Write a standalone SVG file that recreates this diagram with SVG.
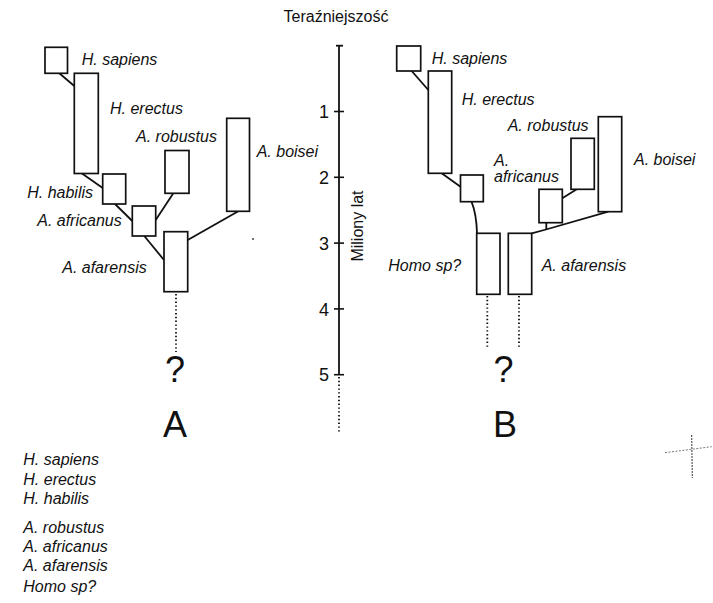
<svg xmlns="http://www.w3.org/2000/svg" width="713" height="603" viewBox="0 0 713 603">
  <style>
    .box { fill: #fff; stroke: #111; stroke-width: 1.7; }
    .link { fill: none; stroke: #111; stroke-width: 1.8; }
    .dots { fill: none; stroke: #111; stroke-width: 1.8; stroke-dasharray: 1.4 2.4; }
    .sp { font-family: "Liberation Sans", Arial, sans-serif; font-style: italic; font-size: 16px; fill: #111; }
    .num { font-family: "Liberation Sans", Arial, sans-serif; font-size: 18px; fill: #111; text-anchor: end; }
    .lbl { font-family: "Liberation Sans", Arial, sans-serif; font-size: 16px; fill: #111; }
    .big { font-family: "Liberation Sans", Arial, sans-serif; font-size: 36px; fill: #111; text-anchor: middle; }
  </style>
  <rect width="713" height="603" fill="#fff"/>

  <!-- time axis -->
  <g id="axis">
    <text class="lbl" x="336" y="21.5" text-anchor="middle">Teraźniejszość</text>
    <line x1="339" y1="45.7" x2="339" y2="375" stroke="#111" stroke-width="1.8"/>
    <line x1="336" y1="45.7" x2="343" y2="45.7" stroke="#111" stroke-width="1.8"/>
    <line x1="339" y1="377" x2="339" y2="432" class="dots"/>
    <g stroke="#111" stroke-width="1.6">
      <line x1="334" y1="111.5" x2="344" y2="111.5"/>
      <line x1="334" y1="177.3" x2="344" y2="177.3"/>
      <line x1="334" y1="243.1" x2="344" y2="243.1"/>
      <line x1="334" y1="308.9" x2="344" y2="308.9"/>
      <line x1="334" y1="374.7" x2="344" y2="374.7"/>
    </g>
    <text class="num" x="329" y="118">1</text>
    <text class="num" x="329" y="184">2</text>
    <text class="num" x="329" y="249.5">3</text>
    <text class="num" x="329" y="315.5">4</text>
    <text class="num" x="329" y="381">5</text>
    <text class="lbl" transform="translate(363 226) rotate(-90)" text-anchor="middle">Miliony lat</text>
  </g>

  <!-- connectors -->
  <g id="connectors">
    <!-- tree A -->
    <line class="link" x1="59" y1="73" x2="74.3" y2="86"/>
    <line class="link" x1="82" y1="173.5" x2="102.7" y2="188"/>
    <line class="link" x1="115" y1="204" x2="132.3" y2="221"/>
    <line class="link" x1="173.3" y1="193.3" x2="155.7" y2="220"/>
    <line class="link" x1="144.3" y1="236" x2="164" y2="260"/>
    <line class="link" x1="238.3" y1="211.3" x2="187.7" y2="240"/>
    <line class="dots" x1="176" y1="294" x2="176" y2="352"/>
    <!-- tree B -->
    <line class="link" x1="411.7" y1="71" x2="428.3" y2="90"/>
    <line class="link" x1="441.7" y1="173.3" x2="460.5" y2="186.7"/>
    <path class="link" d="M471.5,201.7 Q476.5,214 477,233.3"/>
    <polyline class="link" points="531.7,233.3 546,229.5 608.3,211.7"/>
    <line class="link" x1="546.3" y1="222.7" x2="546.3" y2="229.5"/>
    <line class="link" x1="562.3" y1="198.3" x2="576.7" y2="189.3"/>
    <line class="dots" x1="487.3" y1="296" x2="487.3" y2="349"/>
    <line class="dots" x1="519" y1="296" x2="519" y2="349"/>
  </g>

  <!-- tree A nodes -->
  <g id="a-sapiens">
    <rect class="box" x="45" y="47.3" width="22.5" height="26"/>
    <text class="sp" x="81.7" y="65">H. sapiens</text>
  </g>
  <g id="a-erectus">
    <rect class="box" x="74.3" y="73.3" width="24" height="100.2"/>
    <text class="sp" x="110" y="113.5">H. erectus</text>
  </g>
  <g id="a-habilis">
    <rect class="box" x="102.7" y="174" width="23" height="30"/>
    <text class="sp" x="93" y="197.5" text-anchor="end">H. habilis</text>
  </g>
  <g id="a-africanus">
    <rect class="box" x="132.3" y="206" width="23.4" height="30"/>
    <text class="sp" x="121.7" y="226" text-anchor="end">A. africanus</text>
  </g>
  <g id="a-robustus">
    <rect class="box" x="165" y="150.5" width="24" height="42.8"/>
    <text class="sp" x="136" y="142">A. robustus</text>
  </g>
  <g id="a-afarensis">
    <rect class="box" x="164" y="231.7" width="23.7" height="60"/>
    <text class="sp" x="146.7" y="272.5" text-anchor="end">A. afarensis</text>
  </g>
  <g id="a-boisei">
    <rect class="box" x="226.7" y="118.3" width="22.8" height="93"/>
    <text class="sp" x="256.7" y="157">A. boisei</text>
  </g>
  <g id="a-origin">
    <text class="big" x="175" y="381.7">?</text>
    <text class="big" x="175" y="436.7">A</text>
  </g>

  <!-- tree B nodes -->
  <g id="b-sapiens">
    <rect class="box" x="396.7" y="46" width="24" height="25"/>
    <text class="sp" x="431.7" y="63.5">H. sapiens</text>
  </g>
  <g id="b-erectus">
    <rect class="box" x="428.3" y="71" width="23.4" height="102.3"/>
    <text class="sp" x="461.7" y="104.5">H. erectus</text>
  </g>
  <g id="b-africanus">
    <rect class="box" x="460.5" y="175" width="22.8" height="26.7"/>
    <text class="sp" x="494" y="166">A.</text>
    <text class="sp" x="494" y="182">africanus</text>
  </g>
  <g id="b-homo">
    <rect class="box" x="476.7" y="233.3" width="23.3" height="61"/>
    <text class="sp" x="388.3" y="271">Homo sp?</text>
  </g>
  <g id="b-afarensis">
    <rect class="box" x="508.3" y="233.3" width="23.4" height="61"/>
    <text class="sp" x="541.7" y="271">A. afarensis</text>
  </g>
  <g id="b-small">
    <rect class="box" x="539" y="189.3" width="23.3" height="33.4"/>
  </g>
  <g id="b-robustus">
    <rect class="box" x="571" y="138.3" width="23.3" height="51"/>
    <text class="sp" x="507.7" y="130.5">A. robustus</text>
  </g>
  <g id="b-boisei">
    <rect class="box" x="598.3" y="116.7" width="23.4" height="95"/>
    <text class="sp" x="634" y="165">A. boisei</text>
  </g>
  <g id="b-origin">
    <text class="big" x="503.5" y="381.7">?</text>
    <text class="big" x="505" y="437">B</text>
  </g>

  <!-- species list -->
  <g id="legend" class="sp">
    <text x="23.3" y="465">H. sapiens</text>
    <text x="23.3" y="485">H. erectus</text>
    <text x="23.3" y="504">H. habilis</text>
    <text x="23.3" y="533">A. robustus</text>
    <text x="23.3" y="552">A. africanus</text>
    <text x="23.3" y="571">A. afarensis</text>
    <text x="23.3" y="592">Homo sp?</text>
  </g>

  <!-- registration mark -->
  <g id="mark" stroke="#333" stroke-width="1" fill="none">
    <line x1="691.7" y1="435" x2="692.3" y2="478" stroke-dasharray="2 1"/>
    <line x1="665" y1="452.7" x2="711.7" y2="446.7" stroke-dasharray="2 1.5" stroke="#777"/>
  </g>
  <circle cx="253" cy="239" r="0.9" fill="#333"/>
</svg>
